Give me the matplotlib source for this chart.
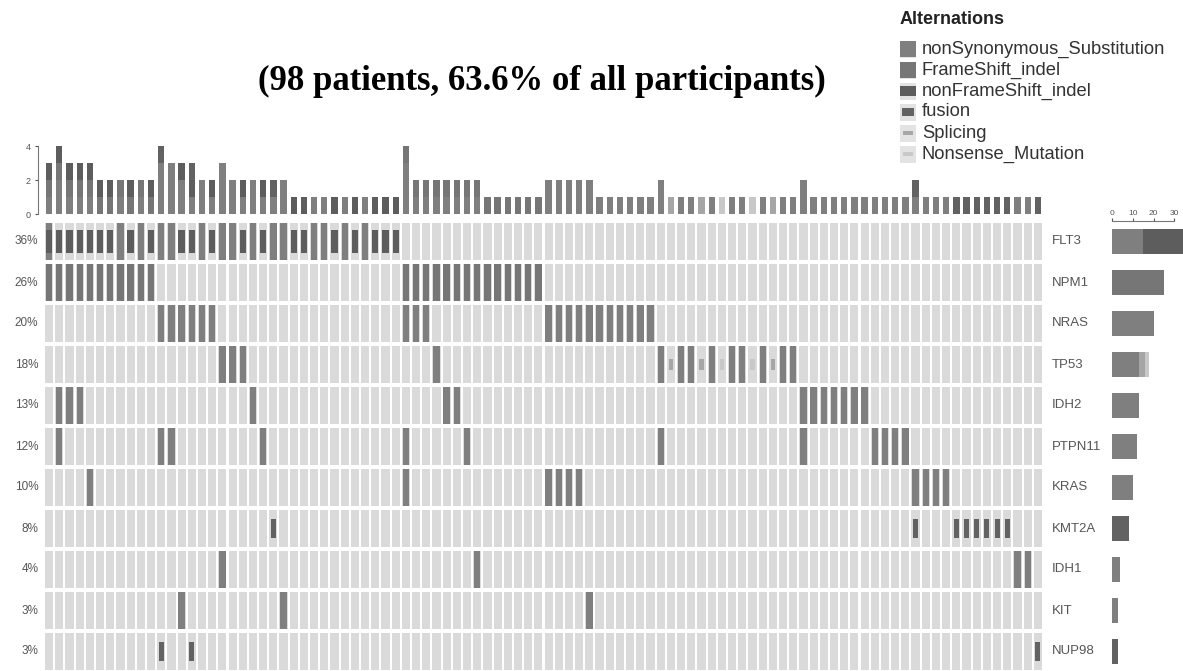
import numpy as np
import matplotlib
matplotlib.use('Agg')
import matplotlib.pyplot as plt

############################################################################## Data

n_patients = 98
genes = ['FLT3', 'NPM1', 'NRAS', 'TP53', 'IDH2', 'PTPN11', 'KRAS', 'KMT2A',
         'IDH1', 'KIT', 'NUP98']
pct_labels = ['36%', '26%', '20%', '18%', '13%', '12%', '10%', '8%', '4%',
              '3%', '3%']
alt_types = ['nonSynonymous_Substitution', 'FrameShift_indel',
             'nonFrameShift_indel', 'fusion', 'Splicing', 'Nonsense_Mutation']

# altered patients (column index) per gene / alteration type
flt3_nonsyn = [0, 7, 9, 11, 12, 15, 17, 18, 20, 22, 23, 26, 27, 29, 31]
flt3_nonframe = [0, 1, 2, 3, 4, 5, 6, 8, 10, 13, 14, 16, 19, 21, 24, 25, 28,
                 30, 32, 33, 34]
npm1_frame = [0, 1, 2, 3, 4, 5, 6, 7, 8, 9, 10, 35, 36, 37, 38, 39, 40, 41,
              42, 43, 44, 45, 46, 47, 48]
nras_nonsyn = [11, 12, 13, 14, 15, 16, 35, 36, 37, 49, 50, 51, 52, 53, 54,
               55, 56, 57, 58, 59]
tp53_nonsyn = [17, 18, 19, 38, 60, 62, 63, 65, 67, 68, 70, 72, 73]
tp53_splice = [61, 64, 71]
tp53_nonsense = [66, 69]
idh2_nonsyn = [1, 2, 3, 20, 39, 40, 74, 75, 76, 77, 78, 79, 80]
ptpn11_nonsyn = [1, 11, 12, 21, 35, 41, 60, 74, 81, 82, 83, 84]
kras_nonsyn = [4, 35, 49, 50, 51, 52, 85, 86, 87, 88]
kmt2a_fusion = [22, 85, 89, 90, 91, 92, 93, 94]
idh1_nonsyn = [17, 42, 95, 96]
kit_nonsyn = [13, 23, 53]
nup98_fusion = [11, 14, 97]

alterations = {
    ('FLT3', 'nonSynonymous_Substitution'): flt3_nonsyn,
    ('FLT3', 'nonFrameShift_indel'): flt3_nonframe,
    ('NPM1', 'FrameShift_indel'): npm1_frame,
    ('NRAS', 'nonSynonymous_Substitution'): nras_nonsyn,
    ('TP53', 'nonSynonymous_Substitution'): tp53_nonsyn,
    ('TP53', 'Splicing'): tp53_splice,
    ('TP53', 'Nonsense_Mutation'): tp53_nonsense,
    ('IDH2', 'nonSynonymous_Substitution'): idh2_nonsyn,
    ('PTPN11', 'nonSynonymous_Substitution'): ptpn11_nonsyn,
    ('KRAS', 'nonSynonymous_Substitution'): kras_nonsyn,
    ('KMT2A', 'fusion'): kmt2a_fusion,
    ('IDH1', 'nonSynonymous_Substitution'): idh1_nonsyn,
    ('KIT', 'nonSynonymous_Substitution'): kit_nonsyn,
    ('NUP98', 'fusion'): nup98_fusion,
}

# glyph style per alteration type: colour, width and height (cell fraction)
type_style = {
    'nonSynonymous_Substitution': ('#7f7f7f', 0.62, 0.90),
    'FrameShift_indel': ('#767676', 0.62, 0.90),
    'nonFrameShift_indel': ('#5d5d5d', 0.62, 0.55),
    'fusion': ('#626262', 0.50, 0.45),
    'Splicing': ('#a6a6a6', 0.40, 0.25),
    'Nonsense_Mutation': ('#c8c8c8', 0.40, 0.25),
}
bg_color = '#dadada'

############################################################################## Figure

plt.rcParams['font.family'] = ['Liberation Sans', 'DejaVu Sans']
W, H = 1183, 671
fig = plt.figure(figsize=(W / 100, H / 100), dpi=100)

def box(x0, y0, x1, y1):
    # pixel box (top-left origin) -> figure fraction
    return [x0 / W, (H - y1) / H, (x1 - x0) / W, (y1 - y0) / H]

ax = fig.add_axes(box(44, 221, 1043, 672))
ax_top = fig.add_axes(box(44, 142.6, 1043, 214))
ax_right = fig.add_axes(box(1112, 221, 1232, 672))

# Main grid
ax.set_xlim(0, n_patients)
ax.set_ylim(len(genes), 0)
ax.axis('off')
cols = np.arange(n_patients)
for r, gene in enumerate(genes):
    ax.bar(cols + 0.5, 0.92, bottom=r + 0.04, width=0.8, color=bg_color,
           linewidth=0)
    for t in alt_types:
        idx = alterations.get((gene, t))
        if idx is None:
            continue
        c, w, h = type_style[t]
        ax.bar(np.array(idx) + 0.5, h, bottom=r + 0.5 - h / 2, width=w,
               color=c, linewidth=0)
    ax.text(-0.55, r + 0.5, pct_labels[r], ha='right', va='center',
            fontsize=8.5, color='#555555', clip_on=False)
    ax.text(n_patients + 0.9, r + 0.5, gene, ha='left', va='center',
            fontsize=9.5, color='#555555', clip_on=False)

# Top barplot: number of alterations per patient
bottom = np.zeros(n_patients)
for t in alt_types:
    counts = np.zeros(n_patients)
    for (gene, tt), idx in alterations.items():
        if tt == t:
            counts[idx] += 1
    ax_top.bar(cols + 0.5, counts, bottom=bottom, width=0.62,
               color=type_style[t][0], linewidth=0)
    bottom += counts
ax_top.set_xlim(0, n_patients)
ax_top.set_ylim(0, 4.2)
ax_top.set_yticks([0, 2, 4])
for s in ['top', 'right', 'bottom']:
    ax_top.spines[s].set_visible(False)
ax_top.spines['left'].set_position(('outward', 4))
ax_top.spines['left'].set_bounds(0, 4)
ax_top.spines['left'].set_color('#777777')
ax_top.set_xticks([])
ax_top.tick_params(axis='y', labelsize=6.5, length=2, colors='#555555')
ax_top.patch.set_alpha(0)

# Right barplot: number of alterations per gene
ax_right.set_ylim(len(genes), 0)
ax_right.set_xlim(0, 120 / 2.08)
for r, gene in enumerate(genes):
    left = 0
    for t in alt_types:
        idx = alterations.get((gene, t))
        if idx is None:
            continue
        ax_right.barh(r + 0.5, len(idx), left=left, height=0.6,
                      color=type_style[t][0], linewidth=0)
        left += len(idx)
for s in ['bottom', 'left', 'right']:
    ax_right.spines[s].set_visible(False)
ax_right.spines['top'].set_bounds(0, 30)
ax_right.spines['top'].set_color('#777777')
ax_right.spines['top'].set_linewidth(0.8)
ax_right.set_yticks([])
ax_right.xaxis.tick_top()
ax_right.set_xticks([0, 10, 20, 30])
ax_right.tick_params(axis='x', labelsize=6, length=2, colors='#555555', pad=1)
ax_right.patch.set_alpha(0)

# Overlay for title and legend, in pixel coordinates
ov = fig.add_axes([0, 0, 1, 1])
ov.set_xlim(0, W)
ov.set_ylim(H, 0)
ov.axis('off')
ov.patch.set_alpha(0)

ov.text(542, 81, '(98 patients, 63.6% of all participants)', ha='center',
        va='center', fontsize=25, fontweight='bold', family='Liberation Serif')

ov.text(900, 20, 'Alternations', ha='left', va='center', fontsize=13,
        fontweight='bold', color='#222222')
leg_y = [49, 70, 91, 112, 133, 154]
for t, y in zip(alt_types, leg_y):
    c, w, h = type_style[t]
    ov.add_patch(plt.Rectangle((900, y - 8.5), 16, 17, color='#e3e3e3', lw=0))
    ov.add_patch(plt.Rectangle((908 - 8 * min(1, w / 0.62), y - 8.5 * h),
                               16 * min(1, w / 0.62), 17 * h, color=c, lw=0))
    ov.text(922, y, t, ha='left', va='center', fontsize=13.2, color='#333333')

fig.savefig('out.png', dpi=100)
